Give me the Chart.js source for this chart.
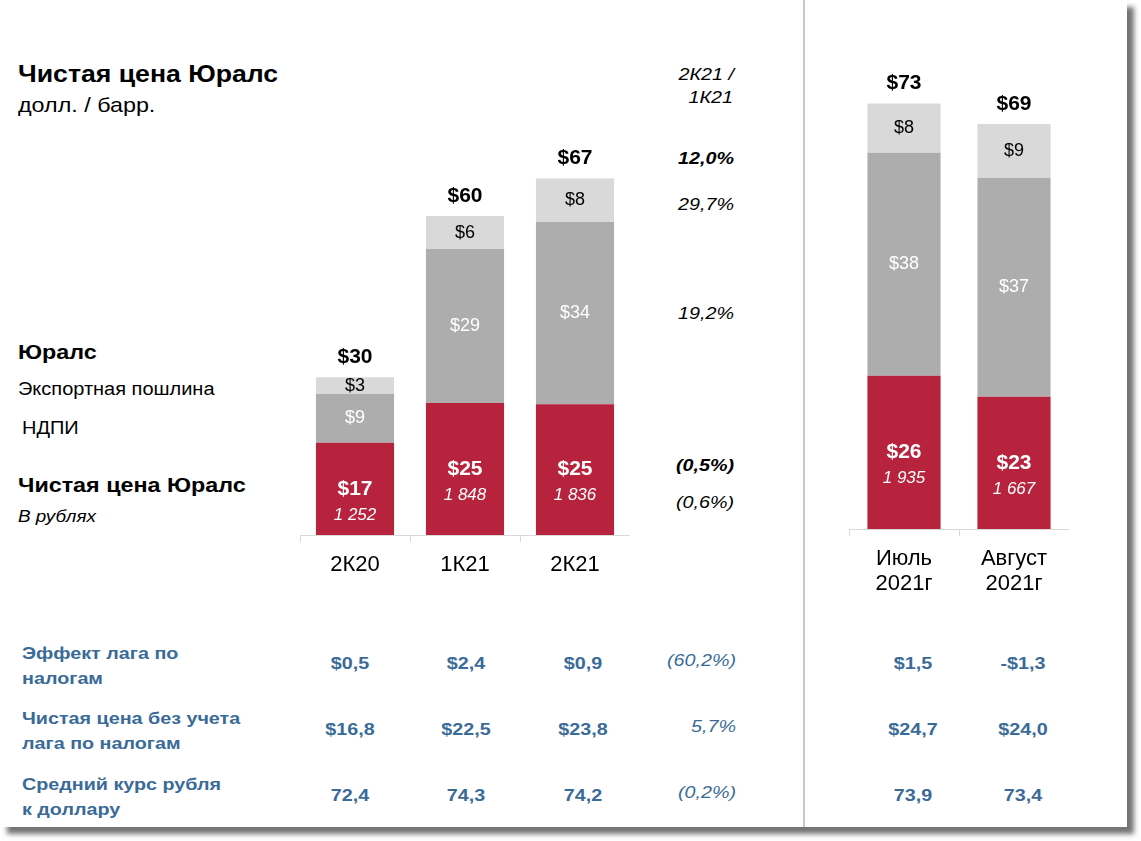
<!DOCTYPE html>
<html lang="ru">
<head>
<meta charset="UTF-8" />
<title>Чистая цена Юралс</title>
<script src="https://cdn.jsdelivr.net/npm/chart.js"></script>
<style>
  body { margin: 0; background: #fff; font-family: "Liberation Sans", Arial, sans-serif; }
  #card { position: absolute; left: 0; top: 0; width: 1127px; height: 827px; background: #fff;
          box-shadow: 7px 7px 5px rgba(0,0,0,0.55); }
  #divider { position: absolute; left: 803px; top: 0; width: 2px; height: 827px; background: #c8c8c8; }
  .t { position: absolute; white-space: nowrap; line-height: 1; color: #000;
       transform-origin: 0 50%; transform: translate(0,-50%) scaleX(var(--w,1)); }
  .r { transform-origin: 100% 50%; transform: translate(-100%,-50%) scaleX(var(--w,1)); text-align: right; }
  .c { transform-origin: 50% 50%; transform: translate(-50%,-50%) scaleX(var(--w,1)); text-align: center; }
  .w1 { --w: 1.11; }
  .w2 { --w: 1.16; }
  .blue { color: #3a6b98; font-weight: bold; font-size: 17px; --w: 1.16; }
  canvas { position: absolute; top: 0; }
</style>
</head>
<body>
<div id="card">
  <div id="divider"></div>

  <div class="t w1" style="left:18px;top:74px;font-size:24px;font-weight:bold">Чистая цена Юралс</div>
  <div class="t w1" style="left:18px;top:104px;font-size:21px">долл. / барр.</div>

  <div class="t w1" style="left:18px;top:351px;font-size:21px;font-weight:bold">Юралс</div>
  <div class="t w1" style="left:18px;top:389px;font-size:18px">Экспортная пошлина</div>
  <div class="t w1" style="left:22px;top:428px;font-size:18px">НДПИ</div>
  <div class="t w1" style="left:18px;top:484px;font-size:21px;font-weight:bold">Чистая цена Юралс</div>
  <div class="t w1" style="left:18px;top:516px;font-size:17px;font-style:italic">В рублях</div>

  <div class="t r w2" style="left:734px;top:74px;font-size:17px;font-style:italic">2К21 /</div>
  <div class="t r w2" style="left:733px;top:97px;font-size:17px;font-style:italic">1К21</div>
  <div class="t r w2" style="left:734px;top:158px;font-size:17px;font-style:italic;font-weight:bold">12,0%</div>
  <div class="t r w2" style="left:734px;top:204px;font-size:17px;font-style:italic">29,7%</div>
  <div class="t r w2" style="left:734px;top:313px;font-size:17px;font-style:italic">19,2%</div>
  <div class="t r w2" style="left:734px;top:465px;font-size:17px;font-style:italic;font-weight:bold">(0,5%)</div>
  <div class="t r w2" style="left:734px;top:502px;font-size:17px;font-style:italic">(0,6%)</div>

  <canvas id="qChart" width="330" height="625" style="left:300px"></canvas>
  <canvas id="mChart" width="220" height="619" style="left:849px"></canvas>

  <div id="table"></div>
</div>

<script>
  // quarterly bars, $/bbl
  const quarters = ['2К20', '1К21', '2К21'];
  const qNet = [17.4, 24.9, 24.7];
  const qNdpi = [9.2, 29.1, 34.4];
  const qDuty = [3.2, 6.2, 8.2];
  const qRub = ['1 252', '1 848', '1 836'];

  // monthly bars
  const months = [['Июль', '2021г'], ['Август', '2021г']];
  const mNet = [26.2, 22.6];
  const mNdpi = [38.1, 37.4];
  const mDuty = [8.4, 9.2];
  const mRub = ['1 935', '1 667'];

  // table under the chart
  const rowLabels = [['Эффект лага по', 'налогам'], ['Чистая цена без учета', 'лага по налогам'], ['Средний курс рубля', 'к доллару']];
  const rowQuarter = [['$0,5', '$2,4', '$0,9'], ['$16,8', '$22,5', '$23,8'], ['72,4', '74,3', '74,2']];
  const rowChange = ['(60,2%)', '5,7%', '(0,2%)'];
  const rowMonth = [['$1,5', '-$1,3'], ['$24,7', '$24,0'], ['73,9', '73,4']];

  const FONT = '"Liberation Sans", Arial, sans-serif';

  const barLabels = {
    id: 'barLabels',
    afterDatasetsDraw(chart, args, opts) {
      const ctx = chart.ctx;
      ctx.save();
      ctx.textAlign = 'center';
      ctx.textBaseline = 'middle';
      chart.data.labels.forEach((lab, j) => {
        let total = 0;
        chart.data.datasets.forEach((ds, i) => {
          const bar = chart.getDatasetMeta(i).data[j];
          const v = ds.data[j];
          total += v;
          const mid = (bar.y + bar.base) / 2;
          if (i === 0) {
            ctx.fillStyle = '#fff';
            ctx.font = 'bold 21px ' + FONT;
            ctx.fillText('$' + Math.round(v), bar.x, mid);
            ctx.font = 'italic 17px ' + FONT;
            ctx.fillText(opts.rub[j], bar.x, mid + 26);
          } else {
            ctx.fillStyle = i === 1 ? '#fff' : '#000';
            ctx.font = '18px ' + FONT;
            ctx.fillText('$' + Math.round(v), bar.x, mid);
          }
        });
        const top = chart.getDatasetMeta(2).data[j];
        ctx.fillStyle = '#000';
        ctx.font = 'bold 21px ' + FONT;
        ctx.fillText('$' + Math.round(total), top.x, top.y - 20);
      });
      ctx.restore();
    }
  };

  function makeChart(id, labels, net, ndpi, duty, rub, yMax, barPct, pad) {
    return new Chart(document.getElementById(id), {
      type: 'bar',
      data: {
        labels: labels,
        datasets: [
          { label: 'Чистая цена Юралс', data: net, backgroundColor: '#b7223c' },
          { label: 'НДПИ', data: ndpi, backgroundColor: '#adadad' },
          { label: 'Экспортная пошлина', data: duty, backgroundColor: '#d9d9d9' }
        ]
      },
      options: {
        responsive: false,
        animation: false,
        layout: { padding: 0 },
        datasets: { bar: { categoryPercentage: 1, barPercentage: barPct } },
        plugins: { legend: { display: false }, tooltip: { enabled: false }, barLabels: { rub: rub } },
        scales: {
          x: {
            stacked: true,
            offset: true,
            grid: { offset: true, drawOnChartArea: false, drawTicks: true, tickLength: 7, color: '#d9d9d9' },
            border: { display: true, color: '#d9d9d9' },
            ticks: { color: '#000', font: { family: FONT, size: 22, lineHeight: 1.14 }, padding: pad, maxRotation: 0 },
            afterFit(scale) { scale.height = 90; }
          },
          y: { stacked: true, display: false, min: 0, max: yMax }
        }
      },
      plugins: [barLabels]
    });
  }

  makeChart('qChart', quarters, qNet, qNdpi, qDuty, qRub, 101, 0.71, 10);
  makeChart('mChart', months, mNet, mNdpi, mDuty, mRub, 90.4, 0.665, 10);

  // table text
  const tbl = document.getElementById('table');
  const rowY = [663, 729, 795];
  const labelY = [653, 718, 784];
  const qX = [350, 466, 583];
  const mX = [913, 1023];
  function put(html, cls, x, y, extra) {
    const d = document.createElement('div');
    d.className = 't blue ' + cls;
    d.style.left = x + 'px';
    d.style.top = y + 'px';
    if (extra) d.style.cssText += extra;
    d.innerHTML = html;
    tbl.appendChild(d);
  }
  rowLabels.forEach((lines, r) => {
    lines.forEach((s, k) => put(s, '', 22, labelY[r] + k * 24.5));
    rowQuarter[r].forEach((s, k) => put(s, 'c', qX[k], rowY[r]));
    put(rowChange[r], 'r', 736, rowY[r] - 3, 'font-weight:normal;font-style:italic;');
    rowMonth[r].forEach((s, k) => put(s, 'c', mX[k], rowY[r]));
  });
</script>
</body>
</html>
